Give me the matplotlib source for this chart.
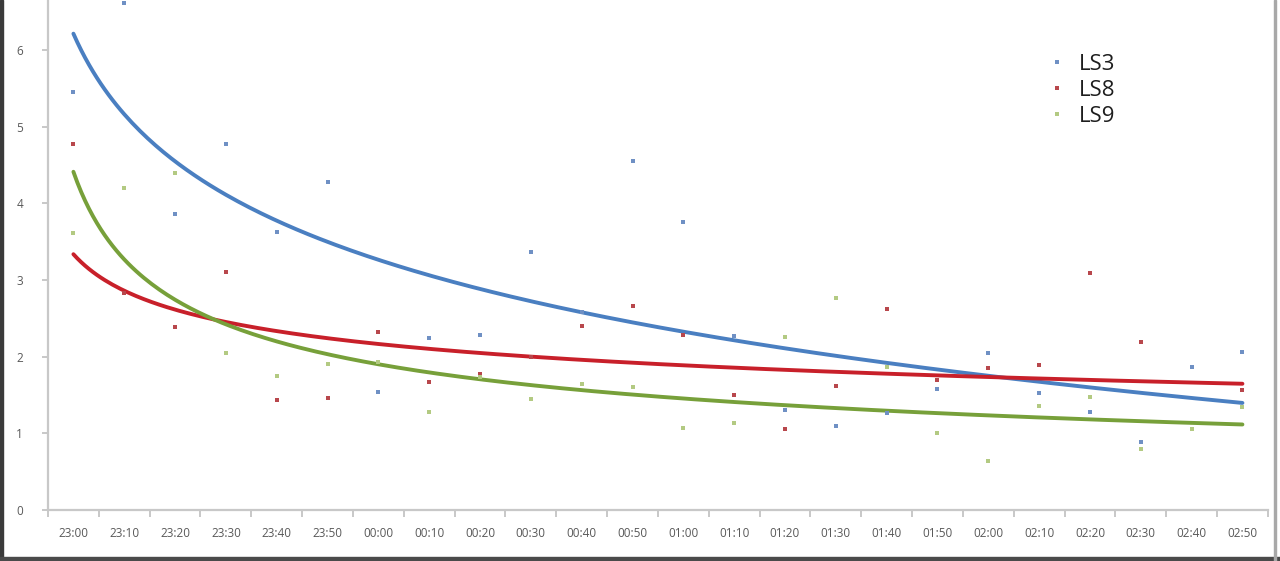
import numpy as np
import matplotlib.pyplot as plt
from matplotlib.patches import Rectangle

# categories (10 min steps)
times = ['23:00', '23:10', '23:20', '23:30', '23:40', '23:50',
         '00:00', '00:10', '00:20', '00:30', '00:40', '00:50',
         '01:00', '01:10', '01:20', '01:30', '01:40', '01:50',
         '02:00', '02:10', '02:20', '02:30', '02:40', '02:50']

ls3 = [5.45, 6.61, 3.86, 4.77, 3.63, 4.28, 1.54, 2.24, 2.28, 3.36, 2.58, 4.55,
       3.76, 2.27, 1.30, 1.09, 1.26, 1.58, 2.05, 1.52, 1.28, 0.89, 1.87, 2.06]
ls8 = [4.77, 2.83, 2.39, 3.10, 1.43, 1.46, 2.32, 1.67, 1.78, 1.99, 2.40, 2.66,
       2.28, 1.50, 1.06, 1.62, 2.62, 1.70, 1.85, 1.89, 3.09, 2.19, 1.06, 1.56]
ls9 = [3.61, 4.20, 4.39, 2.05, 1.75, 1.90, 1.93, 1.28, 1.73, 1.45, 1.64, 1.60,
       1.07, 1.13, 2.26, 2.76, 1.87, 1.00, 0.64, 1.35, 1.47, 0.80, 1.06, 1.34]

series = [('LS3', ls3, '#6F90C4', '#4A7FC1', 'log'),
          ('LS8', ls8, '#B8474C', '#C8202A', 'power'),
          ('LS9', ls9, '#B3CA82', '#77A03A', 'power')]

plt.rcParams['font.family'] = ['Open Sans', 'DejaVu Sans']

x = np.arange(len(times))
n = x + 1  # excel numbers the categories from 1
xs = np.linspace(1, len(times), 300)

fig = plt.figure(figsize=(12.8, 5.61), dpi=100)
ax = fig.add_axes([0.0375, 0.0909, 0.953, 0.9567])

for name, vals, mcol, lcol, kind in series:
    vals = np.array(vals)
    ax.plot(x, vals, 's', color=mcol, markersize=2.7, markeredgewidth=0,
            label=name, zorder=3)
    # trend lines as in the original sheet
    if kind == 'log':
        a, b = np.polyfit(np.log(n), vals, 1)
        ys = a * np.log(xs) + b
    else:
        p, q = np.polyfit(np.log(n), np.log(vals), 1)
        ys = np.exp(q) * xs ** p
    ax.plot(xs - 1, ys, '-', color=lcol, linewidth=2.8, zorder=2,
            solid_capstyle='round')

ax.set_xlim(-0.5, len(times) - 0.5)
ax.set_ylim(0, 7)
ax.set_yticks(range(0, 7))
ax.set_xticks(x)
ax.set_xticklabels(times)
ax.set_xticks(np.arange(-0.5, len(times)), minor=True)
ax.tick_params(axis='x', which='major', length=0, pad=12,
               labelsize=8.5, labelcolor='#595959')
ax.tick_params(axis='x', which='minor', length=5, color='#BFBFBF', width=1.2)
ax.tick_params(axis='y', length=4, color='#BFBFBF', width=1.2, pad=14,
               labelsize=8.5, labelcolor='#595959')

for s in ['top', 'right']:
    ax.spines[s].set_visible(False)
for s in ['left', 'bottom']:
    ax.spines[s].set_color('#C8C8C8')
    ax.spines[s].set_linewidth(1.6)

leg = fig.legend(loc='upper left', bbox_to_anchor=(1026 / 1280, 1 - 34 / 561),
                 frameon=False, fontsize=16, handlelength=1.0,
                 handletextpad=0.5, labelspacing=0.22, markerscale=1.0)
for t in leg.get_texts():
    t.set_color('#1E1E1E')

# screenshot frame
fig.patches.append(Rectangle((0, 0), 3 / 1280, 1, transform=fig.transFigure,
                             color='#3A3A3A', zorder=10))
fig.patches.append(Rectangle((0, 0), 1, 4 / 561, transform=fig.transFigure,
                             color='#4A4A4A', zorder=10))
fig.patches.append(Rectangle((1274 / 1280, 0), 2 / 1280, 1,
                             transform=fig.transFigure, color='#A8A8A8',
                             zorder=10))

plt.savefig('out.png', dpi=100)
plt.close()
